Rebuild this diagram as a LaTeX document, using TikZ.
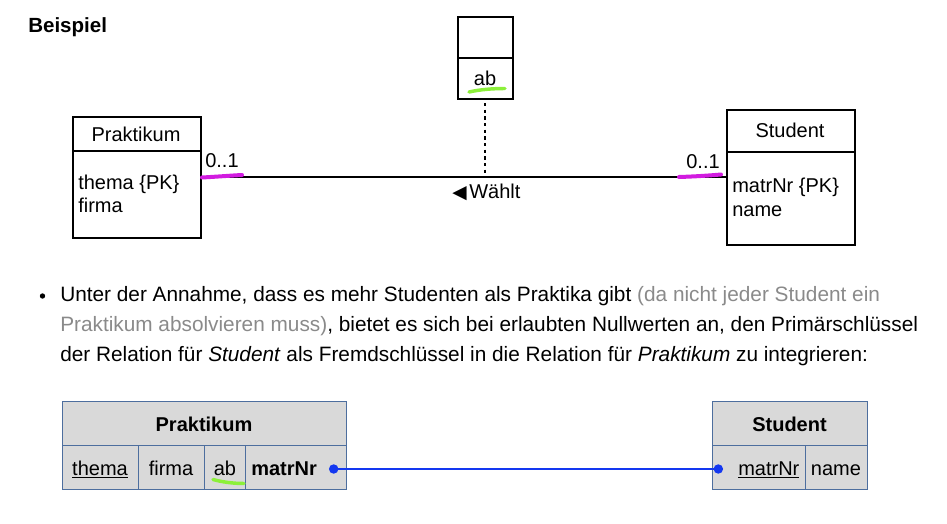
\documentclass[tikz,border=0pt]{standalone}
\usepackage{fontspec}
\setmainfont{Liberation Sans}
\newfontfamily\symfont{DejaVu Sans}
\usetikzlibrary{arrows.meta}
\definecolor{pen}{HTML}{D21BE0}
\definecolor{hl}{HTML}{8CF03A}
\definecolor{tblfill}{HTML}{D9D9D9}
\definecolor{tblline}{HTML}{4D6E9E}
\definecolor{fk}{HTML}{1438F0}
\definecolor{note}{HTML}{8A8A8A}
\begin{document}
\begin{tikzpicture}[x=0.75pt,y=-0.75pt,
  txt/.style={font=\fontsize{15}{18}\selectfont, inner sep=0pt, anchor=base west},
  ctxt/.style={font=\fontsize{15}{18}\selectfont, inner sep=0pt, anchor=base},
  bodytxt/.style={font=\fontsize{15.6}{18}\selectfont, inner sep=0pt, anchor=base west},
  umlbox/.style={draw=black, line width=1.5pt, inner sep=0pt, anchor=north west},
  tcell/.style={draw=tblline, fill=tblfill, line width=0.8pt, inner sep=0pt, anchor=north west},
  penmark/.style={draw=pen, line width=3pt, line cap=round},
  hlmark/.style={draw=hl, line width=2.6pt, line cap=round}
]
\useasboundingbox (0,0) rectangle (947,524);

% title
\node[txt, font=\fontsize{15.4}{18}\selectfont\bfseries] (title) at (28,33) {Beispiel};

% UML: Praktikum
\node[umlbox, minimum width=96pt, minimum height=25.5pt] (praktHead) at (72,116) {};
\node[umlbox, minimum width=96pt, minimum height=65.25pt] (praktBody) at (72,150) {};
\node[ctxt] (praktName) at (136,141.5) {Praktikum};
\node[txt] (praktA1) at (78,190) {thema \{PK\}};
\node[txt] (praktA2) at (78,213) {firma};

% UML: Student
\node[umlbox, minimum width=96pt, minimum height=31.5pt] (studHead) at (726,109) {};
\node[umlbox, minimum width=96pt, minimum height=69.75pt] (studBody) at (726,151) {};
\node[ctxt] (studName) at (790,137.5) {Student};
\node[txt] (studA1) at (732,193) {matrNr \{PK\}};
\node[txt] (studA2) at (732,216.5) {name};

% UML: association class
\node[umlbox, minimum width=41.25pt, minimum height=30.75pt] (abHead) at (457,16) {};
\node[umlbox, minimum width=41.25pt, minimum height=30.75pt] (abBody) at (457,57) {};
\node[ctxt] (abName) at (485,86) {ab};

% association line
\coordinate (lineL) at (200,177);
\coordinate (lineR) at (726,177);
\draw[line width=1.5pt] (lineL) -- (lineR);
\coordinate (dotTop) at (484.5,103);
\coordinate (dotBot) at (484.5,175);
\draw[line width=1.5pt, dash pattern=on 2.6pt off 2.4pt] (dotTop) -- (dotBot);

\node[txt] (multL) at (205,168) {0..1};
\node[txt, anchor=base east] (multR) at (720,168.5) {0..1};
\node[txt] (wahlt) at (452,199) {{\symfont\fontsize{14}{16}\selectfont ◀}\hspace{2pt}Wählt};

% pen annotations
\draw[penmark] (202,177.5) .. controls (220,176.5) and (232,175.5) .. (242,175);
\draw[penmark] (679,177) .. controls (695,176.5) and (710,175.5) .. (721,174.5);
\draw[hlmark] (469,92) .. controls (480,89.5) and (493,88.5) .. (505,88.5);

% bullet text
\node[circle, fill=black, inner sep=0pt, minimum size=4pt] (bullet) at (42.5,296) {};
\node[bodytxt] (line1) at (60,301) {Unter der Annahme, dass es mehr Studenten als Praktika gibt \textcolor{note}{(da nicht jeder Student ein}};
\node[bodytxt] (line2) at (60,331.5) {\textcolor{note}{Praktikum absolvieren muss)}, bietet es sich bei erlaubten Nullwerten an, den Primärschlüssel};
\node[bodytxt] (line3) at (60,362) {der Relation für \textit{Student} als Fremdschlüssel in die Relation für \textit{Praktikum} zu integrieren:};

% relation table Praktikum
\node[tcell, minimum width=213pt, minimum height=33pt] (tpHead) at (62,401) {};
\node[tcell, minimum width=57pt, minimum height=33pt] (tpC1) at (62,445) {};
\node[tcell, minimum width=49.5pt, minimum height=33pt] (tpC2) at (138,445) {};
\node[tcell, minimum width=30.75pt, minimum height=33pt] (tpC3) at (204,445) {};
\node[tcell, minimum width=75.75pt, minimum height=33pt] (tpC4) at (245,445) {};
\node[ctxt, font=\fontsize{15}{18}\selectfont\bfseries] (tpName) at (204,431) {Praktikum};
\node[ctxt] (tpT1) at (100,475) {\underline{thema}};
\node[ctxt] (tpT2) at (171,475) {firma};
\node[ctxt] (tpT3) at (225,475) {ab};
\node[txt, font=\fontsize{15}{18}\selectfont\bfseries] (tpT4) at (251,475) {matrNr};
\draw[hlmark] (213,479.5) .. controls (222,482) and (233,483.5) .. (244,483.5);

% relation table Student
\node[tcell, minimum width=116.25pt, minimum height=33pt] (tsHead) at (712,401) {};
\node[tcell, minimum width=69.75pt, minimum height=33pt] (tsC1) at (712,445) {};
\node[tcell, minimum width=46.5pt, minimum height=33pt] (tsC2) at (805,445) {};
\node[ctxt, font=\fontsize{15}{18}\selectfont\bfseries] (tsName) at (789.5,431) {Student};
\node[txt] (tsT1) at (738,475) {\underline{matrNr}};
\node[ctxt] (tsT2) at (836,475) {name};

% foreign key connector
\coordinate (fkA) at (329,469);
\coordinate (fkB) at (723,469);
\draw[fk, line width=1.1pt, {Circle[length=7pt]}-{Circle[length=7pt]}] (fkA) -- (fkB);
\end{tikzpicture}
\end{document}
